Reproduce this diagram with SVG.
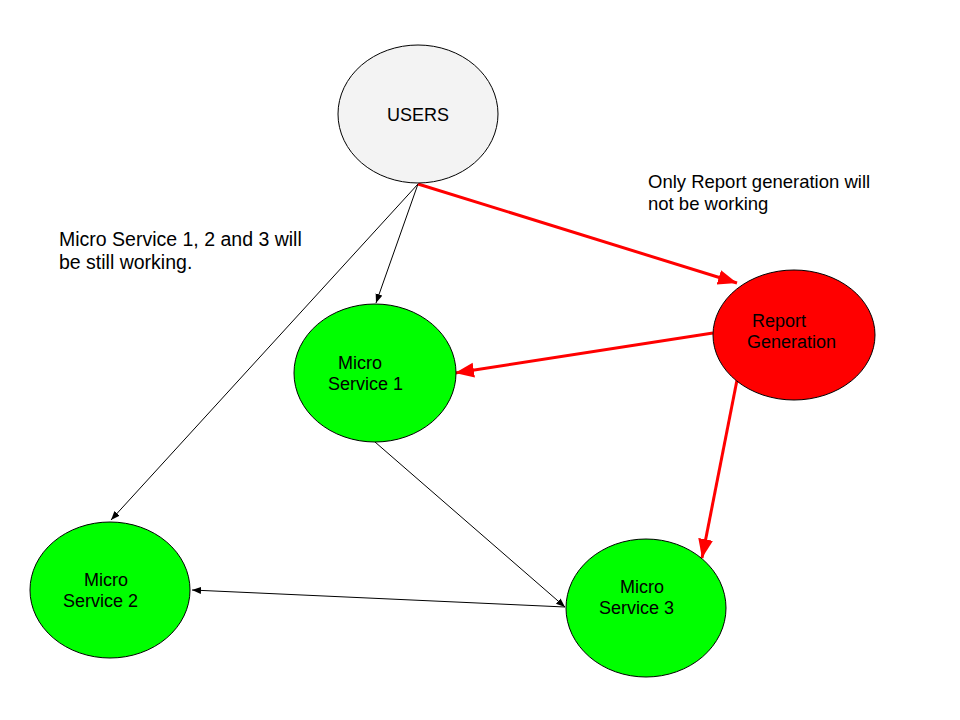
<svg xmlns="http://www.w3.org/2000/svg" width="960" height="720" viewBox="0 0 960 720">
<style>
  .node { stroke: #000; stroke-width: 1; }
  .t { font-family: "Liberation Sans", Arial, sans-serif; font-size: 18px; fill: #000; }
  .ann { font-family: "Liberation Sans", Arial, sans-serif; font-size: 18.5px; fill: #000; }
  .ann2 { font-family: "Liberation Sans", Arial, sans-serif; font-size: 19.5px; fill: #000; }
  .thin { stroke: #000; stroke-width: 1; fill: none; marker-end: url(#ab); }
  .red { stroke: #ff0000; stroke-width: 3; fill: none; marker-end: url(#ar); }
</style>
<defs>
  <marker id="ab" markerUnits="userSpaceOnUse" markerWidth="10" markerHeight="8" refX="9" refY="3.5" orient="auto">
    <path d="M0,0 L9,3.5 L0,7 z" fill="#000"/>
  </marker>
  <marker id="ar" markerUnits="userSpaceOnUse" markerWidth="21" markerHeight="16" refX="19" refY="7.5" orient="auto">
    <path d="M0,0 L19,7.5 L0,15 z" fill="#ff0000"/>
  </marker>
</defs>
<rect width="960" height="720" fill="#fff"/>
<g id="connectors">
  <line class="thin" x1="418" y1="184" x2="376" y2="303"/>
  <line class="thin" x1="418" y1="184" x2="111" y2="520"/>
  <line class="thin" x1="375" y1="442" x2="565" y2="607"/>
  <line class="thin" x1="565" y1="607" x2="192" y2="590"/>
  <line class="red" x1="418" y1="184" x2="737" y2="283"/>
  <line class="red" x1="713" y1="333" x2="455" y2="373"/>
  <line class="red" x1="737" y1="380" x2="702" y2="558"/>
</g>
<g id="users">
  <ellipse class="node" cx="418" cy="114" rx="80" ry="69" fill="#f3f3f3"/>
  <text class="t" x="418" y="121" text-anchor="middle">USERS</text>
</g>
<g id="report">
  <ellipse class="node" cx="794" cy="335" rx="81" ry="65" fill="#ff0000"/>
  <text class="t" x="752" y="327">Report</text>
  <text class="t" x="747" y="348">Generation</text>
</g>
<g id="ms1">
  <ellipse class="node" cx="375" cy="373" rx="81" ry="69" fill="#00ff00"/>
  <text class="t" x="338" y="369">Micro</text>
  <text class="t" x="328" y="390">Service 1</text>
</g>
<g id="ms2">
  <ellipse class="node" cx="110" cy="590" rx="80" ry="68" fill="#00ff00"/>
  <text class="t" x="84" y="586">Micro</text>
  <text class="t" x="63" y="607">Service 2</text>
</g>
<g id="ms3">
  <ellipse class="node" cx="646" cy="608" rx="80" ry="69" fill="#00ff00"/>
  <text class="t" x="620" y="593">Micro</text>
  <text class="t" x="599" y="614">Service 3</text>
</g>
<g id="annotations">
  <text class="ann2" x="59" y="246">Micro Service 1, 2 and 3 will</text>
  <text class="ann2" x="59" y="269">be still working.</text>
  <text class="ann" x="648" y="188">Only Report generation will</text>
  <text class="ann" x="648" y="210">not be working</text>
</g>
</svg>
